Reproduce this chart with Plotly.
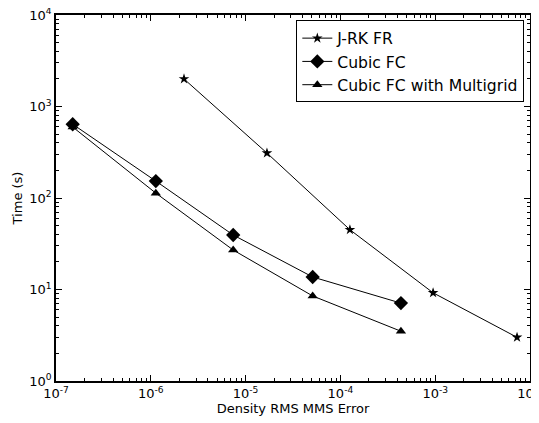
import plotly.graph_objects as go

jrk_x = [2.24e-6, 1.68e-5, 1.26e-4, 9.5e-4, 7.3e-3]
jrk_y = [2000, 310, 45, 9.2, 3.0]

cfc_x = [1.5e-7, 1.13e-6, 7.4e-6, 5.1e-5, 4.35e-4]
cfc_y = [640, 153, 39.4, 13.7, 7.1]

mg_x = [1.5e-7, 1.13e-6, 7.4e-6, 5.1e-5, 4.35e-4]
mg_y = [597, 113, 27, 8.5, 3.5]

x_tickvals = [1e-7, 1e-6, 1e-5, 1e-4, 1e-3, 1e-2]
x_ticktext = ["10<sup>-7</sup>", "10<sup>-6</sup>", "10<sup>-5</sup>", "10<sup>-4</sup>", "10<sup>-3</sup>", "10<sup>-2</sup>"]
y_tickvals = [1, 10, 100, 1000, 10000]
y_ticktext = ["10<sup>0</sup>", "10<sup>1</sup>", "10<sup>2</sup>", "10<sup>3</sup>", "10<sup>4</sup>"]

x_minor = [m * 10.0 ** e for e in range(-7, -2) for m in range(2, 10)]
y_minor = [m * 10.0 ** e for e in range(0, 4) for m in range(2, 10)]

FONT = "DejaVu Sans"

fig = go.Figure()
fig.add_trace(go.Scatter(x=jrk_x, y=jrk_y, mode="lines+markers", name="J-RK FR",
                         line=dict(color="black", width=1),
                         marker=dict(symbol="star", size=8, color="black")))
fig.add_trace(go.Scatter(x=cfc_x, y=cfc_y, mode="lines+markers", name="Cubic FC",
                         line=dict(color="black", width=1),
                         marker=dict(symbol="diamond", size=11, color="black")))
fig.add_trace(go.Scatter(x=mg_x, y=mg_y, mode="lines+markers", name="Cubic FC with Multigrid",
                         line=dict(color="black", width=1),
                         marker=dict(symbol="triangle-up", size=9, color="black")))

base = dict(type="log", showgrid=False, zeroline=False, automargin=False,
            ticks="inside", tickcolor="black", tickwidth=1)

fig.update_layout(
    xaxis=dict(**base, range=[-7, -2], tickvals=x_tickvals, ticktext=x_ticktext,
               showline=True, linecolor="black", linewidth=1.5, mirror="ticks", ticklen=6,
               ticklabeloverflow="allow",
               tickfont=dict(family=FONT, size=13, color="black"),
               title=dict(text="Density RMS MMS Error", font=dict(family=FONT, size=13, color="black"), standoff=4)),
    yaxis=dict(**base, range=[0, 4], tickvals=y_tickvals, ticktext=y_ticktext,
               showline=True, linecolor="black", linewidth=1.5, mirror="ticks", ticklen=6,
               ticklabeloverflow="allow",
               tickfont=dict(family=FONT, size=13, color="black"),
               title=dict(text="Time (s)", font=dict(family=FONT, size=13, color="black"), standoff=4)),
    xaxis2=dict(**base, range=[-7, -2], tickvals=x_minor, showticklabels=False, overlaying="x",
                side="bottom", anchor="y", showline=False, mirror="ticks", ticklen=3),
    yaxis2=dict(**base, range=[0, 4], tickvals=y_minor, showticklabels=False, overlaying="y",
                side="left", anchor="x", showline=False, mirror="ticks", ticklen=3),
    width=531, height=415,
    margin=dict(l=48, r=9, t=7, b=42),
    plot_bgcolor="white", paper_bgcolor="white",
    font=dict(family=FONT, color="black"),
    legend=dict(x=0.507, y=0.985, xanchor="left", yanchor="top",
                bordercolor="black", borderwidth=1, bgcolor="white",
                font=dict(family=FONT, size=15.6, color="black"),
                tracegroupgap=0),
    showlegend=True,
)
# invisible trace to activate minor-tick axes
fig.add_trace(go.Scatter(x=[1e-7], y=[1], xaxis="x2", yaxis="y2", mode="markers",
                         marker=dict(opacity=0), showlegend=False, hoverinfo="skip"))

fig.write_html("out.html")
